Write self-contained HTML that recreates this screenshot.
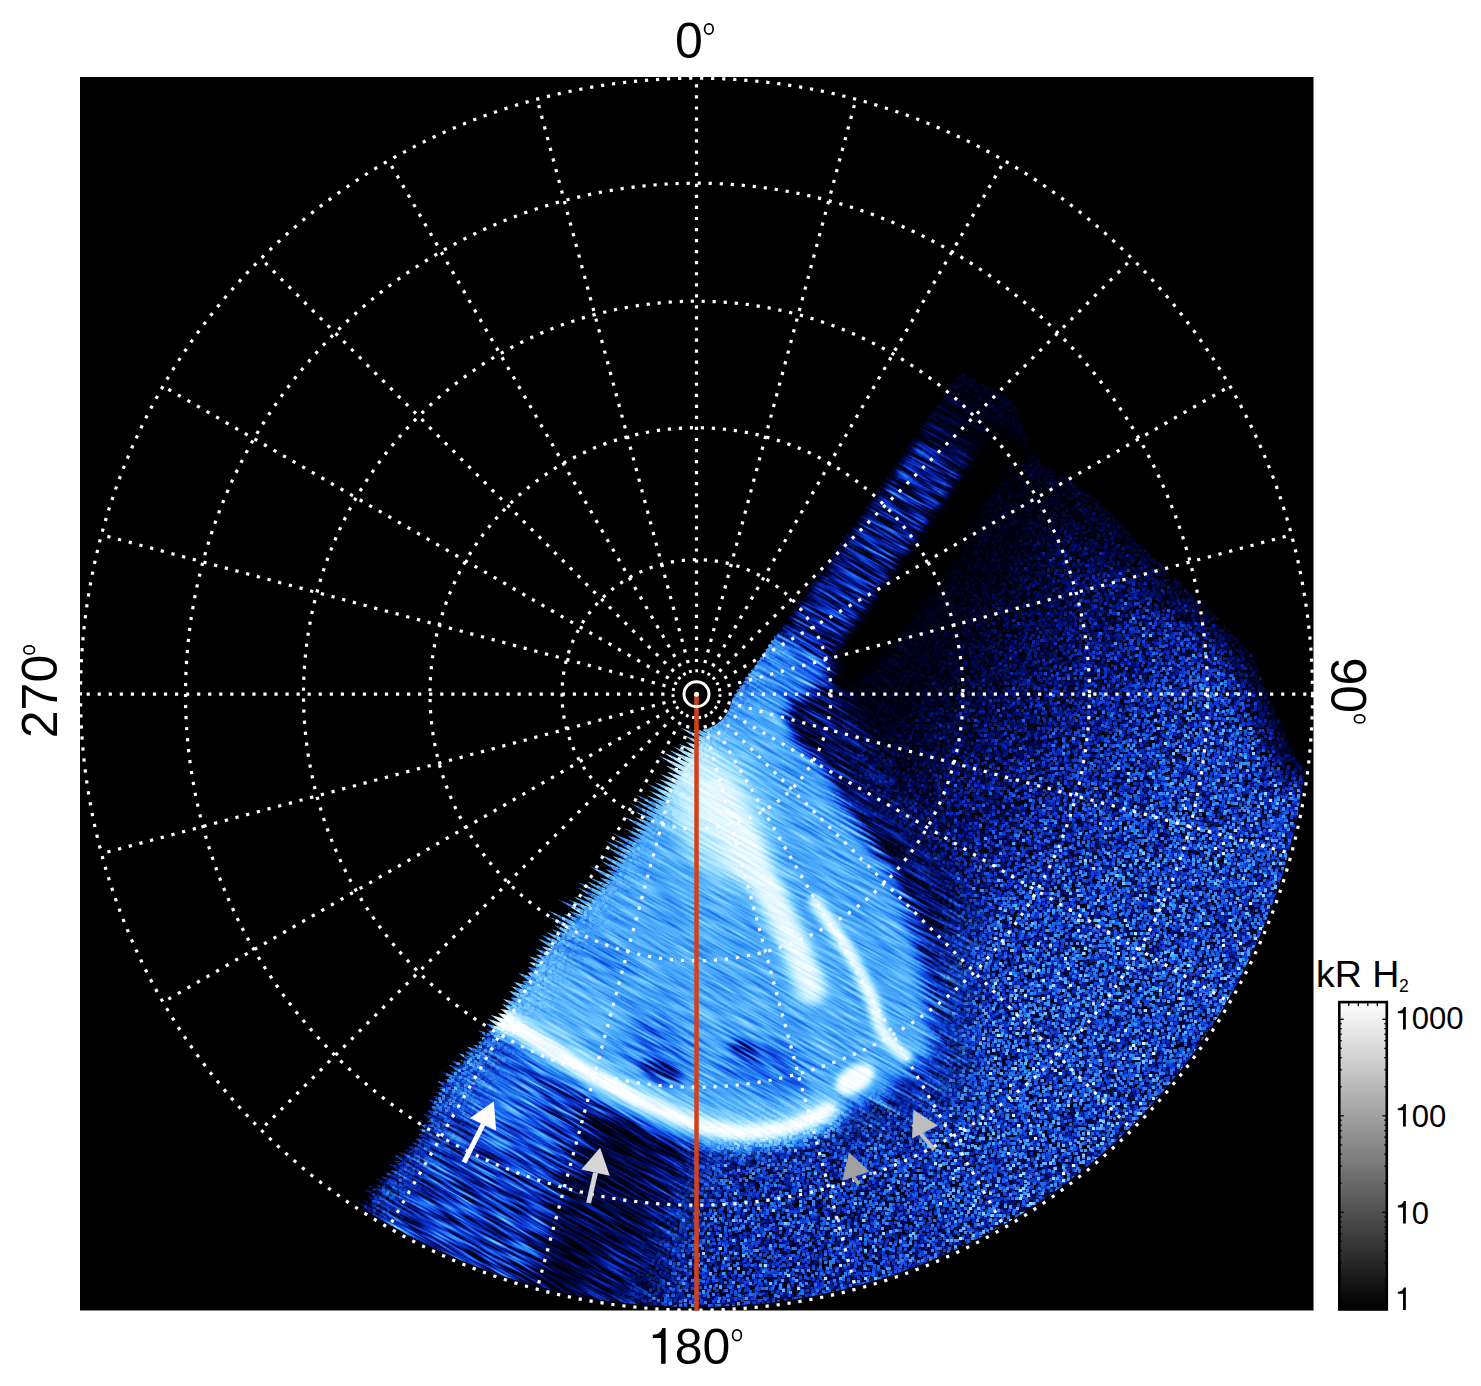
<!DOCTYPE html>
<html><head><meta charset="utf-8"><style>
html,body{margin:0;padding:0;background:#fff;width:1481px;height:1386px;overflow:hidden}
svg{position:absolute;left:0;top:0;display:block}
</style></head><body>
<svg width="1481" height="1386" viewBox="0 0 1481 1386">
<rect x="80" y="77" width="1233.5" height="1233.5" fill="#000"/>
<defs>
<clipPath id="dclip"><polygon points="288.4,1320.0 279.8,1313.2 291.3,1315.9 281.9,1308.7 294.2,1311.8 284.4,1304.4 297.1,1307.7 286.2,1299.7 300.0,1303.6 290.5,1296.4 302.8,1299.5 292.2,1291.6 305.7,1295.5 301.3,1291.0 308.6,1291.4 301.1,1285.2 311.5,1287.3 300.7,1279.3 314.4,1283.2 305.6,1276.3 317.3,1279.1 306.8,1271.3 320.2,1275.0 315.2,1270.2 323.1,1270.9 315.6,1264.8 326.0,1266.8 320.0,1261.5 328.9,1262.7 320.8,1256.3 331.7,1258.6 323.5,1252.1 334.6,1254.6 330.3,1250.2 337.5,1250.5 331.8,1245.3 340.4,1246.4 334.2,1240.9 343.3,1242.3 332.7,1234.4 346.2,1238.2 336.6,1230.9 349.1,1234.1 343.7,1229.1 352.0,1230.0 342.2,1222.6 354.9,1225.9 349.7,1221.0 357.8,1221.8 349.2,1215.1 360.6,1217.7 355.5,1212.9 363.5,1213.6 359.3,1209.3 366.4,1209.6 356.1,1201.8 369.3,1205.5 363.6,1200.3 372.2,1201.4 366.5,1196.2 375.1,1197.3 364.0,1189.1 378.5,1193.5 368.1,1185.8 381.9,1189.8 375.6,1184.3 385.3,1186.1 374.3,1178.0 388.7,1182.3 380.7,1175.9 392.1,1178.6 383.1,1171.7 395.5,1174.9 389.8,1169.8 398.7,1171.0 387.9,1163.1 401.8,1167.1 392.7,1160.1 404.9,1163.1 393.9,1155.1 408.0,1159.2 397.5,1151.4 411.1,1155.3 404.8,1149.8 414.2,1151.3 407.4,1145.6 417.3,1147.4 411.9,1142.4 420.4,1143.4 415.1,1138.5 423.0,1139.1 418.3,1134.5 425.1,1134.5 418.7,1129.0 427.2,1129.8 418.7,1123.2 429.3,1125.2 425.1,1120.9 431.4,1120.6 422.5,1113.6 433.6,1115.9 427.0,1110.3 435.7,1111.3 429.3,1105.8 437.8,1106.7 427.8,1099.2 439.9,1102.0 432.3,1095.8 442.0,1097.4 435.6,1091.8 444.1,1092.8 436.5,1086.6 446.3,1088.1 437.1,1081.1 448.4,1083.5 443.8,1078.9 451.5,1079.5 440.4,1071.4 454.8,1075.8 450.4,1071.3 458.2,1072.0 448.7,1064.8 461.5,1068.2 451.4,1060.6 464.9,1064.5 460.5,1060.1 468.2,1060.7 458.5,1053.3 471.6,1056.9 464.8,1051.2 474.9,1053.2 466.6,1046.6 478.2,1049.4 473.9,1045.0 481.6,1045.6 477.0,1041.1 484.9,1041.9 479.4,1036.8 488.3,1038.1 477.4,1030.0 491.6,1034.3 486.0,1029.2 495.0,1030.6 485.4,1023.3 498.3,1026.8 487.6,1018.8 501.7,1023.0 490.8,1015.0 504.6,1019.0 498.0,1013.3 507.3,1014.7 500.6,1009.0 510.0,1010.5 502.1,1004.2 512.8,1006.3 503.1,999.0 515.5,1002.1 510.5,997.4 518.2,997.9 508.7,990.7 520.9,993.7 511.1,986.3 523.7,989.5 513.4,981.8 526.4,985.3 521.9,980.8 529.1,981.1 518.2,973.1 531.8,976.9 527.0,972.2 534.5,972.7 527.9,967.0 537.3,968.5 528.8,961.7 540.0,964.2 529.3,956.3 542.7,960.0 536.1,954.4 546.1,956.3 535.4,948.4 549.6,952.6 541.5,946.2 553.0,948.9 537.7,938.4 556.4,945.2 541.0,934.7 559.9,941.5 546.6,932.2 563.3,937.8 551.6,929.3 566.7,934.1 553.9,925.0 570.2,930.4 549.0,916.7 573.6,926.7 547.7,910.3 577.0,923.0 564.0,913.8 580.5,919.3 569.2,911.0 583.9,915.5 558.2,899.3 587.3,911.8 568.6,899.5 590.8,908.1 574.0,896.8 594.2,904.4 580.0,894.6 597.6,900.7 578.0,887.8 601.1,897.0 577.8,882.1 604.5,893.3 587.0,881.6 607.9,889.6 590.9,878.2 611.1,885.7 599.7,877.4 613.9,881.5 589.3,865.9 616.7,877.4 605.7,869.3 619.5,873.3 601.4,861.2 622.3,869.1 598.9,854.1 625.1,865.0 612.6,856.0 627.9,860.8 606.1,846.7 630.7,856.7 605.6,840.7 633.5,852.5 613.3,839.3 636.4,848.4 613.7,833.8 639.2,844.2 627.0,835.5 642.0,840.1 624.7,828.5 644.8,835.9 631.9,826.8 647.6,831.8 624.0,816.7 650.4,827.6 635.3,817.3 653.2,823.5 635.7,811.8 656.0,819.3 630.1,802.9 658.8,815.2 635.2,800.1 661.6,811.0 636.1,794.8 664.4,806.9 646.9,795.2 667.0,802.5 648.9,790.5 669.5,798.2 647.7,784.1 672.0,793.8 654.1,781.9 674.6,789.5 659.5,779.2 677.1,785.1 660.3,773.9 679.6,780.8 666.8,771.7 682.1,776.4 665.8,765.4 684.7,772.1 658.9,755.8 687.2,767.8 661.9,751.7 689.7,763.4 669.5,750.2 692.2,759.1 674.0,747.0 694.8,754.7 679.0,744.0 697.3,750.4 685.4,741.8 700.0,746.1 685.2,736.0 702.9,742.0 680.3,727.5 705.7,737.9 681.9,722.7 708.6,733.9 692.5,722.9 711.5,729.8 688.9,715.2 714.4,725.7 692.0,711.2 717.3,721.6 696.1,707.8 720.2,717.5 719.2,715.0 723.1,713.4 722.0,710.8 726.0,709.3 725.4,707.0 728.9,705.2 727.8,702.7 731.7,701.1 731.3,698.9 734.6,697.0 733.9,694.6 737.5,692.9 736.3,690.3 740.3,688.8 739.3,686.2 743.2,684.7 742.7,682.4 746.0,680.6 744.7,677.8 748.9,676.4 748.0,673.9 751.8,672.3 750.9,669.9 754.6,668.2 754.6,666.2 757.5,664.1 756.7,661.7 760.3,660.0 759.9,657.8 763.2,655.9 762.2,653.4 766.1,651.8 765.4,649.4 768.9,647.7 767.7,645.0 771.8,643.5 770.8,641.0 774.6,639.4 773.5,636.8 777.5,635.3 777.0,633.0 780.4,631.2 779.4,628.7 783.2,627.1 782.1,624.5 786.1,623.0 784.9,620.3 788.9,618.9 788.4,616.6 791.8,614.8 790.6,612.1 794.7,610.7 793.4,608.0 797.5,606.5 796.5,604.0 800.4,602.4 799.0,599.7 803.2,598.3 801.9,595.6 806.1,594.2 805.3,591.8 808.9,590.1 808.2,587.7 811.8,586.0 811.5,583.8 814.7,581.9 813.5,579.2 817.5,577.8 816.2,575.0 820.4,573.6 819.7,571.3 823.2,569.5 822.2,567.0 826.1,565.4 825.1,562.8 829.0,561.3 827.9,558.7 831.8,557.2 831.5,555.0 834.7,553.1 833.6,550.5 837.5,549.0 836.7,546.5 840.4,544.9 839.4,542.3 843.3,540.7 842.6,538.4 846.1,536.6 845.2,534.1 849.0,532.5 847.9,529.9 851.8,528.4 850.9,525.9 854.7,524.3 853.7,521.7 857.6,520.2 857.5,518.2 860.4,516.1 860.2,513.9 863.3,512.0 862.6,509.6 866.1,507.9 865.2,505.3 869.0,503.7 868.7,501.6 871.9,499.6 870.9,497.1 874.7,495.5 873.8,493.0 877.6,491.4 877.5,489.4 880.4,487.3 879.7,484.9 883.3,483.2 882.9,481.0 886.2,479.1 886.0,477.0 889.0,475.0 888.8,472.8 891.9,470.8 891.4,468.6 894.7,466.7 894.4,464.6 897.6,462.6 897.3,460.5 900.5,458.5 900.4,456.5 903.3,454.4 902.6,452.0 906.2,450.3 905.6,448.0 909.0,446.2 908.1,443.7 911.9,442.1 911.0,439.6 914.8,437.9 914.4,435.7 917.6,433.8 916.3,431.1 920.5,429.7 920.4,427.7 923.3,425.6 922.7,423.3 926.2,421.5 925.8,419.3 929.0,417.4 928.4,415.1 931.9,413.3 931.7,411.2 934.8,409.2 933.6,406.5 937.6,405.1 937.1,402.7 940.5,400.9 940.4,398.9 943.3,396.8 942.4,394.3 946.2,392.7 946.0,390.6 949.1,388.6 948.3,386.2 951.9,384.5 951.4,382.2 954.8,380.4 953.9,377.9 957.6,376.3 956.3,373.5 960.5,372.2 1012.0,400.0 1036.0,458.0 1091.0,494.0 1145.0,548.0 1181.0,584.0 1220.0,620.0 1253.0,656.0 1267.0,692.0 1300.0,765.0 1400.0,800.0 1400.0,1400.0 300.0,1400.0"/></clipPath>
<clipPath id="cclip"><circle cx="696.5" cy="694.2" r="613"/></clipPath>
<filter id="b2" x="-50%" y="-50%" width="200%" height="200%"><feGaussianBlur stdDeviation="2"/></filter>
<filter id="b3" x="-50%" y="-50%" width="200%" height="200%"><feGaussianBlur stdDeviation="3"/></filter>
<filter id="b4" x="-50%" y="-50%" width="200%" height="200%"><feGaussianBlur stdDeviation="4"/></filter>
<filter id="b5" x="-50%" y="-50%" width="200%" height="200%"><feGaussianBlur stdDeviation="5"/></filter>
<filter id="b6" x="-50%" y="-50%" width="200%" height="200%"><feGaussianBlur stdDeviation="6"/></filter>
<filter id="b8" x="-50%" y="-50%" width="200%" height="200%"><feGaussianBlur stdDeviation="8"/></filter>
<filter id="b10" x="-50%" y="-50%" width="200%" height="200%"><feGaussianBlur stdDeviation="10"/></filter>
<filter id="b12" x="-50%" y="-50%" width="200%" height="200%"><feGaussianBlur stdDeviation="12"/></filter>
<filter id="b14" x="-50%" y="-50%" width="200%" height="200%"><feGaussianBlur stdDeviation="14"/></filter>
<filter id="b15" x="-50%" y="-50%" width="200%" height="200%"><feGaussianBlur stdDeviation="15"/></filter>
<filter id="b20" x="-50%" y="-50%" width="200%" height="200%"><feGaussianBlur stdDeviation="20"/></filter>
<filter id="b25" x="-50%" y="-50%" width="200%" height="200%"><feGaussianBlur stdDeviation="25"/></filter>
<filter id="b30" x="-50%" y="-50%" width="200%" height="200%"><feGaussianBlur stdDeviation="30"/></filter>
<filter id="b40" x="-50%" y="-50%" width="200%" height="200%"><feGaussianBlur stdDeviation="40"/></filter>
<filter id="cmapI" x="0" y="0" width="1481" height="1386" filterUnits="userSpaceOnUse" color-interpolation-filters="sRGB">
<feTurbulence type="fractalNoise" baseFrequency="0.6" numOctaves="1" seed="3" result="tn"/>
<feColorMatrix in="tn" type="matrix" values="1 0 0 0 0  1 0 0 0 0  1 0 0 0 0  0 0 0 0 1" result="n0"/>
<feMorphology in="n0" operator="dilate" radius="1" result="n1"/><feComponentTransfer in="n1" result="n"><feFuncR type="linear" slope="2.1" intercept="-0.878"/><feFuncG type="linear" slope="2.1" intercept="-0.878"/><feFuncB type="linear" slope="2.1" intercept="-0.878"/></feComponentTransfer>
<feComponentTransfer in="SourceGraphic" result="A"><feFuncR type="table" tableValues="0 0.3 0.55 0.8 0.9 0.85 0.65 0.5 0.4 0.3 0.2"/><feFuncG type="table" tableValues="0 0.3 0.55 0.8 0.9 0.85 0.65 0.5 0.4 0.3 0.2"/><feFuncB type="table" tableValues="0 0.3 0.55 0.8 0.9 0.85 0.65 0.5 0.4 0.3 0.2"/></feComponentTransfer>
<feComposite in="A" in2="n" operator="arithmetic" k1="1" k2="0" k3="0" k4="0" result="An"/>
<feComposite in="SourceGraphic" in2="An" operator="arithmetic" k1="0" k2="0.5" k3="1" k4="0" result="vp"/>
<feComponentTransfer in="SourceGraphic" result="B"><feFuncR type="table" tableValues="1.000 0.700 0.450 0.200 0.100 0.150 0.350 0.500 0.600 0.700 0.800"/><feFuncG type="table" tableValues="1.000 0.700 0.450 0.200 0.100 0.150 0.350 0.500 0.600 0.700 0.800"/><feFuncB type="table" tableValues="1.000 0.700 0.450 0.200 0.100 0.150 0.350 0.500 0.600 0.700 0.800"/></feComponentTransfer>
<feComposite in="vp" in2="B" operator="arithmetic" k1="0" k2="1" k3="0.5" k4="0" result="u"/>
<feComposite in="u" in2="u" operator="arithmetic" k1="0" k2="2" k3="0" k4="-1"/>
<feComponentTransfer>
<feFuncR type="table" tableValues="0 0 0 0.03 0.06 0.12 0.24 0.40 0.6 0.82 1"/>
<feFuncG type="table" tableValues="0 0.02 0.06 0.16 0.27 0.45 0.62 0.75 0.87 0.95 1"/>
<feFuncB type="table" tableValues="0 0.19 0.44 0.72 0.88 0.94 0.97 1 1 1 1"/>
<feFuncA type="table" tableValues="1 1"/>
</feComponentTransfer>
</filter>
<filter id="cmapS" x="-700" y="-700" width="2900" height="2900" filterUnits="userSpaceOnUse" color-interpolation-filters="sRGB">
<feTurbulence type="fractalNoise" baseFrequency="0.025 0.4" numOctaves="2" seed="7" result="tn"/>
<feColorMatrix in="tn" type="matrix" values="1 0 0 0 0  1 0 0 0 0  1 0 0 0 0  0 0 0 0 1" result="n0"/>
<feMerge result="n"><feMergeNode in="n0"/></feMerge>
<feComponentTransfer in="SourceGraphic" result="A"><feFuncR type="table" tableValues="0 0.4 0.65 0.72 0.65 0.45 0.3 0.22 0.17 0.14 0.12"/><feFuncG type="table" tableValues="0 0.4 0.65 0.72 0.65 0.45 0.3 0.22 0.17 0.14 0.12"/><feFuncB type="table" tableValues="0 0.4 0.65 0.72 0.65 0.45 0.3 0.22 0.17 0.14 0.12"/></feComponentTransfer>
<feComposite in="A" in2="n" operator="arithmetic" k1="1" k2="0" k3="0" k4="0" result="An"/>
<feComposite in="SourceGraphic" in2="An" operator="arithmetic" k1="0" k2="0.5" k3="1" k4="0" result="vp"/>
<feComponentTransfer in="SourceGraphic" result="B"><feFuncR type="table" tableValues="1.000 0.600 0.350 0.280 0.350 0.550 0.700 0.780 0.830 0.860 0.880"/><feFuncG type="table" tableValues="1.000 0.600 0.350 0.280 0.350 0.550 0.700 0.780 0.830 0.860 0.880"/><feFuncB type="table" tableValues="1.000 0.600 0.350 0.280 0.350 0.550 0.700 0.780 0.830 0.860 0.880"/></feComponentTransfer>
<feComposite in="vp" in2="B" operator="arithmetic" k1="0" k2="1" k3="0.5" k4="0" result="u"/>
<feComposite in="u" in2="u" operator="arithmetic" k1="0" k2="2" k3="0" k4="-1"/>
<feComponentTransfer>
<feFuncR type="table" tableValues="0 0 0 0.03 0.06 0.12 0.24 0.40 0.6 0.82 1"/>
<feFuncG type="table" tableValues="0 0.02 0.06 0.16 0.27 0.45 0.62 0.75 0.87 0.95 1"/>
<feFuncB type="table" tableValues="0 0.19 0.44 0.72 0.88 0.94 0.97 1 1 1 1"/>
<feFuncA type="table" tableValues="1 1"/>
</feComponentTransfer>
</filter>
<mask id="smask" maskUnits="userSpaceOnUse" x="0" y="0" width="1481" height="1386"><polygon points="932.5,380.0 1015.0,395.0 900.0,640.0 850.0,760.0 960.0,900.0 960.0,1100.0 700.0,1160.0 640.0,1320.0 300.0,1320.0" fill="#fff" filter="url(#b25)"/></mask>
<linearGradient id="ng" gradientUnits="userSpaceOnUse" x1="940" y1="641" x2="1168" y2="802"><stop offset="0" stop-color="rgb(13,13,13)"/><stop offset="0.5" stop-color="rgb(51,51,51)"/><stop offset="1" stop-color="rgb(84,84,84)"/></linearGradient>
</defs>
<g clip-path="url(#cclip)">
<g clip-path="url(#dclip)"><g filter="url(#cmapI)"><rect x="0" y="0" width="1481" height="1386" fill="url(#ng)"/>
<polygon points="700.0,1100.0 900.0,1150.0 1000.0,1300.0 650.0,1330.0" fill="rgb(76,76,76)" filter="url(#b20)"/>
<polygon points="980.0,920.0 1300.0,820.0 1300.0,1000.0 1150.0,1250.0 1000.0,1300.0 920.0,1120.0" fill="rgb(89,89,89)" filter="url(#b40)"/>
<path d="M1012,400 L1036,458 L1091,494 L1145,548 L1181,584 L1220,620 L1253,656 L1267,692 L1300,765" stroke="rgb(8,8,8)" stroke-width="40" fill="none" stroke-linecap="round" filter="url(#b12)"/>
<polygon points="959.0,384.6 936.1,417.1 913.1,449.6 890.2,482.1 867.2,514.6 844.2,547.1 821.3,579.6 798.3,612.1 775.4,644.6 821.1,676.9 844.1,644.4 867.0,611.9 890.0,579.4 912.9,546.9 935.9,514.4 958.9,481.9 981.8,449.4 1004.8,416.9" fill="rgb(59,59,59)" filter="url(#b3)"/>
<polygon points="965.5,344.2 958.5,354.2 951.4,364.2 944.3,374.2 937.3,384.2 930.2,394.2 923.1,404.2 916.1,414.2 909.0,424.2 998.9,487.7 1005.9,477.7 1013.0,467.7 1020.1,457.7 1027.1,447.7 1034.2,437.7 1041.2,427.7 1048.3,417.7 1055.4,407.7" fill="rgb(15,15,15)" filter="url(#b12)"/>
<polygon points="1036.0,450.0 990.0,490.0 960.0,560.0 900.0,640.0 850.0,690.0 800.0,712.0 762.9,755.8 812.4,685.8 861.8,615.8 911.3,545.8 960.8,475.8 996.1,425.8" fill="rgb(5,5,5)" filter="url(#b6)"/>
<polygon points="751.4,612.7 739.9,628.9 728.4,645.2 716.9,661.4 705.5,677.7 694.0,693.9 682.5,710.2 671.0,726.4 659.5,742.7 741.2,800.4 752.7,784.1 764.2,767.9 775.7,751.6 787.1,735.4 798.6,719.1 810.1,702.9 821.6,686.6 833.1,670.4" fill="rgb(140,140,140)" filter="url(#b8)"/>
<polygon points="686.4,700.0 770.0,695.0 795.0,712.0 845.0,795.0 900.0,880.0 922.0,960.0 935.0,1050.0 880.0,1100.0 800.0,1120.0 700.0,1130.0 600.0,1095.0 520.0,1035.0 467.4,1010.0" fill="rgb(163,163,163)" filter="url(#b8)"/>
<ellipse cx="822" cy="728" rx="38" ry="24" fill="rgb(20,20,20)" transform="rotate(30 822 728)" filter="url(#b6)"/>
<polygon points="795.0,708.0 840.0,790.0 895.0,872.0 925.0,925.0 960.0,905.0 925.0,830.0 875.0,745.0 835.0,690.0" fill="rgb(43,43,43)" filter="url(#b10)"/>
<ellipse cx="640" cy="1040" rx="60" ry="28" fill="rgb(128,128,128)" transform="rotate(25 640 1040)" filter="url(#b12)"/>
<ellipse cx="660" cy="1072" rx="22" ry="10" fill="rgb(64,64,64)" transform="rotate(20 660 1072)" filter="url(#b5)"/>
<ellipse cx="770" cy="1070" rx="45" ry="22" fill="rgb(122,122,122)" transform="rotate(10 770 1070)" filter="url(#b10)"/>
<ellipse cx="745" cy="1050" rx="15" ry="8" fill="rgb(71,71,71)" transform="rotate(20 745 1050)" filter="url(#b4)"/>
<ellipse cx="600" cy="960" rx="40" ry="20" fill="rgb(140,140,140)" transform="rotate(30 600 960)" filter="url(#b10)"/>
<polygon points="467.4,1010.0 560.0,1075.0 600.0,1110.0 560.0,1200.0 520.0,1290.0 340.0,1260.0" fill="rgb(87,87,87)" filter="url(#b15)"/>
<ellipse cx="480" cy="1080" rx="85" ry="40" fill="rgb(128,128,128)" transform="rotate(38 480 1080)" filter="url(#b20)"/>
<ellipse cx="715" cy="810" rx="42" ry="80" fill="rgb(230,230,230)" transform="rotate(-25 715 810)" filter="url(#b14)"/>
<ellipse cx="575" cy="1005" rx="65" ry="32" fill="rgb(173,173,173)" transform="rotate(32 575 1005)" filter="url(#b14)"/>
<path d="M712,792 C745,845 785,915 812,990" stroke="rgb(242,242,242)" stroke-width="30" fill="none" stroke-linecap="round" filter="url(#b6)"/>
<path d="M815,902 C848,945 872,990 877,1018 C882,1035 895,1048 906,1056" stroke="rgb(245,245,245)" stroke-width="13" fill="none" stroke-linecap="round" filter="url(#b3)"/>
<path d="M503,1019 C553,1048 633,1110 720,1130 C770,1136 800,1126 828,1110" stroke="rgb(204,204,204)" stroke-width="36" fill="none" stroke-linecap="round" filter="url(#b8)"/>
<path d="M503,1019 C553,1048 633,1110 720,1130 C770,1136 800,1126 828,1110" stroke="rgb(255,255,255)" stroke-width="14" fill="none" stroke-linecap="round" filter="url(#b3)"/>
<ellipse cx="855" cy="1079" rx="21" ry="13" fill="rgb(255,255,255)" transform="rotate(-30 855 1079)" filter="url(#b3)"/>
<ellipse cx="505" cy="1022" rx="12" ry="8" fill="rgb(255,255,255)" transform="rotate(30 505 1022)" filter="url(#b4)"/></g></g>
<g clip-path="url(#dclip)"><g mask="url(#smask)"><g transform="rotate(29 696.5 694.2)"><g filter="url(#cmapS)"><g transform="rotate(-29 696.5 694.2)"><rect x="0" y="0" width="1481" height="1386" fill="url(#ng)"/>
<polygon points="700.0,1100.0 900.0,1150.0 1000.0,1300.0 650.0,1330.0" fill="rgb(76,76,76)" filter="url(#b20)"/>
<polygon points="980.0,920.0 1300.0,820.0 1300.0,1000.0 1150.0,1250.0 1000.0,1300.0 920.0,1120.0" fill="rgb(89,89,89)" filter="url(#b40)"/>
<path d="M1012,400 L1036,458 L1091,494 L1145,548 L1181,584 L1220,620 L1253,656 L1267,692 L1300,765" stroke="rgb(8,8,8)" stroke-width="40" fill="none" stroke-linecap="round" filter="url(#b12)"/>
<polygon points="959.0,384.6 936.1,417.1 913.1,449.6 890.2,482.1 867.2,514.6 844.2,547.1 821.3,579.6 798.3,612.1 775.4,644.6 821.1,676.9 844.1,644.4 867.0,611.9 890.0,579.4 912.9,546.9 935.9,514.4 958.9,481.9 981.8,449.4 1004.8,416.9" fill="rgb(59,59,59)" filter="url(#b3)"/>
<polygon points="965.5,344.2 958.5,354.2 951.4,364.2 944.3,374.2 937.3,384.2 930.2,394.2 923.1,404.2 916.1,414.2 909.0,424.2 998.9,487.7 1005.9,477.7 1013.0,467.7 1020.1,457.7 1027.1,447.7 1034.2,437.7 1041.2,427.7 1048.3,417.7 1055.4,407.7" fill="rgb(15,15,15)" filter="url(#b12)"/>
<polygon points="1036.0,450.0 990.0,490.0 960.0,560.0 900.0,640.0 850.0,690.0 800.0,712.0 762.9,755.8 812.4,685.8 861.8,615.8 911.3,545.8 960.8,475.8 996.1,425.8" fill="rgb(5,5,5)" filter="url(#b6)"/>
<polygon points="751.4,612.7 739.9,628.9 728.4,645.2 716.9,661.4 705.5,677.7 694.0,693.9 682.5,710.2 671.0,726.4 659.5,742.7 741.2,800.4 752.7,784.1 764.2,767.9 775.7,751.6 787.1,735.4 798.6,719.1 810.1,702.9 821.6,686.6 833.1,670.4" fill="rgb(140,140,140)" filter="url(#b8)"/>
<polygon points="686.4,700.0 770.0,695.0 795.0,712.0 845.0,795.0 900.0,880.0 922.0,960.0 935.0,1050.0 880.0,1100.0 800.0,1120.0 700.0,1130.0 600.0,1095.0 520.0,1035.0 467.4,1010.0" fill="rgb(163,163,163)" filter="url(#b8)"/>
<ellipse cx="822" cy="728" rx="38" ry="24" fill="rgb(20,20,20)" transform="rotate(30 822 728)" filter="url(#b6)"/>
<polygon points="795.0,708.0 840.0,790.0 895.0,872.0 925.0,925.0 960.0,905.0 925.0,830.0 875.0,745.0 835.0,690.0" fill="rgb(43,43,43)" filter="url(#b10)"/>
<ellipse cx="640" cy="1040" rx="60" ry="28" fill="rgb(128,128,128)" transform="rotate(25 640 1040)" filter="url(#b12)"/>
<ellipse cx="660" cy="1072" rx="22" ry="10" fill="rgb(64,64,64)" transform="rotate(20 660 1072)" filter="url(#b5)"/>
<ellipse cx="770" cy="1070" rx="45" ry="22" fill="rgb(122,122,122)" transform="rotate(10 770 1070)" filter="url(#b10)"/>
<ellipse cx="745" cy="1050" rx="15" ry="8" fill="rgb(71,71,71)" transform="rotate(20 745 1050)" filter="url(#b4)"/>
<ellipse cx="600" cy="960" rx="40" ry="20" fill="rgb(140,140,140)" transform="rotate(30 600 960)" filter="url(#b10)"/>
<polygon points="467.4,1010.0 560.0,1075.0 600.0,1110.0 560.0,1200.0 520.0,1290.0 340.0,1260.0" fill="rgb(87,87,87)" filter="url(#b15)"/>
<ellipse cx="480" cy="1080" rx="85" ry="40" fill="rgb(128,128,128)" transform="rotate(38 480 1080)" filter="url(#b20)"/>
<ellipse cx="715" cy="810" rx="42" ry="80" fill="rgb(230,230,230)" transform="rotate(-25 715 810)" filter="url(#b14)"/>
<ellipse cx="575" cy="1005" rx="65" ry="32" fill="rgb(173,173,173)" transform="rotate(32 575 1005)" filter="url(#b14)"/>
<path d="M712,792 C745,845 785,915 812,990" stroke="rgb(242,242,242)" stroke-width="30" fill="none" stroke-linecap="round" filter="url(#b6)"/>
<path d="M815,902 C848,945 872,990 877,1018 C882,1035 895,1048 906,1056" stroke="rgb(245,245,245)" stroke-width="13" fill="none" stroke-linecap="round" filter="url(#b3)"/>
<path d="M503,1019 C553,1048 633,1110 720,1130 C770,1136 800,1126 828,1110" stroke="rgb(204,204,204)" stroke-width="36" fill="none" stroke-linecap="round" filter="url(#b8)"/>
<path d="M503,1019 C553,1048 633,1110 720,1130 C770,1136 800,1126 828,1110" stroke="rgb(255,255,255)" stroke-width="14" fill="none" stroke-linecap="round" filter="url(#b3)"/>
<ellipse cx="855" cy="1079" rx="21" ry="13" fill="rgb(255,255,255)" transform="rotate(-30 855 1079)" filter="url(#b3)"/>
<ellipse cx="505" cy="1022" rx="12" ry="8" fill="rgb(255,255,255)" transform="rotate(30 505 1022)" filter="url(#b4)"/></g></g></g></g></g>
</g>
<circle cx="696.5" cy="694.2" r="36" fill="#000"/>
<circle cx="696.5" cy="694.2" r="616" stroke="#fff" stroke-width="3.2" stroke-dasharray="3.2 7.85" fill="none"/>
<circle cx="696.5" cy="694.2" r="511" stroke="#fff" stroke-width="3.2" stroke-dasharray="3.2 7.85" fill="none"/>
<circle cx="696.5" cy="694.2" r="393" stroke="#fff" stroke-width="3.2" stroke-dasharray="3.2 7.85" fill="none"/>
<circle cx="696.5" cy="694.2" r="266.5" stroke="#fff" stroke-width="3.2" stroke-dasharray="3.2 7.85" fill="none"/>
<circle cx="696.5" cy="694.2" r="134.5" stroke="#fff" stroke-width="3.2" stroke-dasharray="3.2 7.85" fill="none"/>
<circle cx="696.5" cy="694.2" r="23.5" stroke="#fff" stroke-width="3" stroke-dasharray="2.8 3.6" fill="none"/>
<line x1="696.50" y1="662.10" x2="696.50" y2="78.20" stroke="#fff" stroke-width="3.2" stroke-dasharray="3.2 7.85" fill="none"/>
<line x1="704.81" y1="663.19" x2="855.93" y2="99.19" stroke="#fff" stroke-width="3.2" stroke-dasharray="3.2 7.85" fill="none"/>
<line x1="712.55" y1="666.40" x2="1004.50" y2="160.73" stroke="#fff" stroke-width="3.2" stroke-dasharray="3.2 7.85" fill="none"/>
<line x1="719.20" y1="671.50" x2="1132.08" y2="258.62" stroke="#fff" stroke-width="3.2" stroke-dasharray="3.2 7.85" fill="none"/>
<line x1="724.30" y1="678.15" x2="1229.97" y2="386.20" stroke="#fff" stroke-width="3.2" stroke-dasharray="3.2 7.85" fill="none"/>
<line x1="727.51" y1="685.89" x2="1291.51" y2="534.77" stroke="#fff" stroke-width="3.2" stroke-dasharray="3.2 7.85" fill="none"/>
<line x1="728.60" y1="694.20" x2="1312.50" y2="694.20" stroke="#fff" stroke-width="3.2" stroke-dasharray="3.2 7.85" fill="none"/>
<line x1="727.51" y1="702.51" x2="1291.51" y2="853.63" stroke="#fff" stroke-width="3.2" stroke-dasharray="3.2 7.85" fill="none"/>
<line x1="724.30" y1="710.25" x2="1229.97" y2="1002.20" stroke="#fff" stroke-width="3.2" stroke-dasharray="3.2 7.85" fill="none"/>
<line x1="719.20" y1="716.90" x2="1132.08" y2="1129.78" stroke="#fff" stroke-width="3.2" stroke-dasharray="3.2 7.85" fill="none"/>
<line x1="712.55" y1="722.00" x2="1004.50" y2="1227.67" stroke="#fff" stroke-width="3.2" stroke-dasharray="3.2 7.85" fill="none"/>
<line x1="704.81" y1="725.21" x2="855.93" y2="1289.21" stroke="#fff" stroke-width="3.2" stroke-dasharray="3.2 7.85" fill="none"/>
<line x1="696.50" y1="726.30" x2="696.50" y2="1310.20" stroke="#fff" stroke-width="3.2" stroke-dasharray="3.2 7.85" fill="none"/>
<line x1="688.19" y1="725.21" x2="537.07" y2="1289.21" stroke="#fff" stroke-width="3.2" stroke-dasharray="3.2 7.85" fill="none"/>
<line x1="680.45" y1="722.00" x2="388.50" y2="1227.67" stroke="#fff" stroke-width="3.2" stroke-dasharray="3.2 7.85" fill="none"/>
<line x1="673.80" y1="716.90" x2="260.92" y2="1129.78" stroke="#fff" stroke-width="3.2" stroke-dasharray="3.2 7.85" fill="none"/>
<line x1="668.70" y1="710.25" x2="163.03" y2="1002.20" stroke="#fff" stroke-width="3.2" stroke-dasharray="3.2 7.85" fill="none"/>
<line x1="665.49" y1="702.51" x2="101.49" y2="853.63" stroke="#fff" stroke-width="3.2" stroke-dasharray="3.2 7.85" fill="none"/>
<line x1="664.40" y1="694.20" x2="80.50" y2="694.20" stroke="#fff" stroke-width="3.2" stroke-dasharray="3.2 7.85" fill="none"/>
<line x1="665.49" y1="685.89" x2="101.49" y2="534.77" stroke="#fff" stroke-width="3.2" stroke-dasharray="3.2 7.85" fill="none"/>
<line x1="668.70" y1="678.15" x2="163.03" y2="386.20" stroke="#fff" stroke-width="3.2" stroke-dasharray="3.2 7.85" fill="none"/>
<line x1="673.80" y1="671.50" x2="260.92" y2="258.62" stroke="#fff" stroke-width="3.2" stroke-dasharray="3.2 7.85" fill="none"/>
<line x1="680.45" y1="666.40" x2="388.50" y2="160.73" stroke="#fff" stroke-width="3.2" stroke-dasharray="3.2 7.85" fill="none"/>
<line x1="688.19" y1="663.19" x2="537.07" y2="99.19" stroke="#fff" stroke-width="3.2" stroke-dasharray="3.2 7.85" fill="none"/>
<line x1="696.5" y1="694.2" x2="696.5" y2="1310.5" stroke="#d5401a" stroke-width="4.5"/>
<circle cx="696.5" cy="694.2" r="12.5" fill="none" stroke="#fff" stroke-width="3"/>
<circle cx="696.5" cy="694.2" r="2.5" fill="#fff"/>
<line x1="464" y1="1162.3" x2="483.1" y2="1124.3" stroke="#fff" stroke-width="5"/>
<polygon points="493.8,1101.5 470,1118 496.2,1130.7" fill="#fff"/>
<line x1="588.6" y1="1203" x2="595.5" y2="1172.7" stroke="#d6d6d6" stroke-width="5"/>
<polygon points="600.1,1147.7 581.3,1169.6 609.8,1175.7" fill="#d6d6d6"/>
<line x1="859" y1="1184.3" x2="845.6" y2="1166.5" stroke="#a0a0a0" stroke-width="4"/>
<polygon points="869.5,1171.6 848.9,1152.2 842.3,1180.8" fill="#a0a0a0"/>
<line x1="934" y1="1149.6" x2="912.7" y2="1124.2" stroke="#bdbdbd" stroke-width="4"/>
<polygon points="938,1125.5 913.4,1109.7 912,1138.6" fill="#bdbdbd"/>
<defs><linearGradient id="cb" x1="0" y1="0" x2="0" y2="1"><stop offset="0" stop-color="#fff"/><stop offset="1" stop-color="#000"/></linearGradient></defs>
<rect x="1339.3" y="1002.1" width="47.5" height="307.4" fill="url(#cb)" stroke="#000" stroke-width="2.6"/>
<line x1="1339.3" y1="1308.80" x2="1343.8" y2="1308.80" stroke="#000" stroke-width="1.3"/>
<line x1="1386.8" y1="1308.80" x2="1382.3" y2="1308.80" stroke="#000" stroke-width="1.3"/>
<line x1="1339.3" y1="1279.75" x2="1341.8" y2="1279.75" stroke="#000" stroke-width="1.3"/>
<line x1="1386.8" y1="1279.75" x2="1384.3" y2="1279.75" stroke="#000" stroke-width="1.3"/>
<line x1="1339.3" y1="1262.76" x2="1341.8" y2="1262.76" stroke="#000" stroke-width="1.3"/>
<line x1="1386.8" y1="1262.76" x2="1384.3" y2="1262.76" stroke="#000" stroke-width="1.3"/>
<line x1="1339.3" y1="1250.70" x2="1341.8" y2="1250.70" stroke="#000" stroke-width="1.3"/>
<line x1="1386.8" y1="1250.70" x2="1384.3" y2="1250.70" stroke="#000" stroke-width="1.3"/>
<line x1="1339.3" y1="1241.35" x2="1341.8" y2="1241.35" stroke="#000" stroke-width="1.3"/>
<line x1="1386.8" y1="1241.35" x2="1384.3" y2="1241.35" stroke="#000" stroke-width="1.3"/>
<line x1="1339.3" y1="1233.71" x2="1341.8" y2="1233.71" stroke="#000" stroke-width="1.3"/>
<line x1="1386.8" y1="1233.71" x2="1384.3" y2="1233.71" stroke="#000" stroke-width="1.3"/>
<line x1="1339.3" y1="1227.25" x2="1341.8" y2="1227.25" stroke="#000" stroke-width="1.3"/>
<line x1="1386.8" y1="1227.25" x2="1384.3" y2="1227.25" stroke="#000" stroke-width="1.3"/>
<line x1="1339.3" y1="1221.65" x2="1341.8" y2="1221.65" stroke="#000" stroke-width="1.3"/>
<line x1="1386.8" y1="1221.65" x2="1384.3" y2="1221.65" stroke="#000" stroke-width="1.3"/>
<line x1="1339.3" y1="1216.72" x2="1341.8" y2="1216.72" stroke="#000" stroke-width="1.3"/>
<line x1="1386.8" y1="1216.72" x2="1384.3" y2="1216.72" stroke="#000" stroke-width="1.3"/>
<line x1="1339.3" y1="1212.30" x2="1343.8" y2="1212.30" stroke="#000" stroke-width="1.3"/>
<line x1="1386.8" y1="1212.30" x2="1382.3" y2="1212.30" stroke="#000" stroke-width="1.3"/>
<line x1="1339.3" y1="1183.25" x2="1341.8" y2="1183.25" stroke="#000" stroke-width="1.3"/>
<line x1="1386.8" y1="1183.25" x2="1384.3" y2="1183.25" stroke="#000" stroke-width="1.3"/>
<line x1="1339.3" y1="1166.26" x2="1341.8" y2="1166.26" stroke="#000" stroke-width="1.3"/>
<line x1="1386.8" y1="1166.26" x2="1384.3" y2="1166.26" stroke="#000" stroke-width="1.3"/>
<line x1="1339.3" y1="1154.20" x2="1341.8" y2="1154.20" stroke="#000" stroke-width="1.3"/>
<line x1="1386.8" y1="1154.20" x2="1384.3" y2="1154.20" stroke="#000" stroke-width="1.3"/>
<line x1="1339.3" y1="1144.85" x2="1341.8" y2="1144.85" stroke="#000" stroke-width="1.3"/>
<line x1="1386.8" y1="1144.85" x2="1384.3" y2="1144.85" stroke="#000" stroke-width="1.3"/>
<line x1="1339.3" y1="1137.21" x2="1341.8" y2="1137.21" stroke="#000" stroke-width="1.3"/>
<line x1="1386.8" y1="1137.21" x2="1384.3" y2="1137.21" stroke="#000" stroke-width="1.3"/>
<line x1="1339.3" y1="1130.75" x2="1341.8" y2="1130.75" stroke="#000" stroke-width="1.3"/>
<line x1="1386.8" y1="1130.75" x2="1384.3" y2="1130.75" stroke="#000" stroke-width="1.3"/>
<line x1="1339.3" y1="1125.15" x2="1341.8" y2="1125.15" stroke="#000" stroke-width="1.3"/>
<line x1="1386.8" y1="1125.15" x2="1384.3" y2="1125.15" stroke="#000" stroke-width="1.3"/>
<line x1="1339.3" y1="1120.22" x2="1341.8" y2="1120.22" stroke="#000" stroke-width="1.3"/>
<line x1="1386.8" y1="1120.22" x2="1384.3" y2="1120.22" stroke="#000" stroke-width="1.3"/>
<line x1="1339.3" y1="1115.80" x2="1343.8" y2="1115.80" stroke="#000" stroke-width="1.3"/>
<line x1="1386.8" y1="1115.80" x2="1382.3" y2="1115.80" stroke="#000" stroke-width="1.3"/>
<line x1="1339.3" y1="1086.75" x2="1341.8" y2="1086.75" stroke="#000" stroke-width="1.3"/>
<line x1="1386.8" y1="1086.75" x2="1384.3" y2="1086.75" stroke="#000" stroke-width="1.3"/>
<line x1="1339.3" y1="1069.76" x2="1341.8" y2="1069.76" stroke="#000" stroke-width="1.3"/>
<line x1="1386.8" y1="1069.76" x2="1384.3" y2="1069.76" stroke="#000" stroke-width="1.3"/>
<line x1="1339.3" y1="1057.70" x2="1341.8" y2="1057.70" stroke="#000" stroke-width="1.3"/>
<line x1="1386.8" y1="1057.70" x2="1384.3" y2="1057.70" stroke="#000" stroke-width="1.3"/>
<line x1="1339.3" y1="1048.35" x2="1341.8" y2="1048.35" stroke="#000" stroke-width="1.3"/>
<line x1="1386.8" y1="1048.35" x2="1384.3" y2="1048.35" stroke="#000" stroke-width="1.3"/>
<line x1="1339.3" y1="1040.71" x2="1341.8" y2="1040.71" stroke="#000" stroke-width="1.3"/>
<line x1="1386.8" y1="1040.71" x2="1384.3" y2="1040.71" stroke="#000" stroke-width="1.3"/>
<line x1="1339.3" y1="1034.25" x2="1341.8" y2="1034.25" stroke="#000" stroke-width="1.3"/>
<line x1="1386.8" y1="1034.25" x2="1384.3" y2="1034.25" stroke="#000" stroke-width="1.3"/>
<line x1="1339.3" y1="1028.65" x2="1341.8" y2="1028.65" stroke="#000" stroke-width="1.3"/>
<line x1="1386.8" y1="1028.65" x2="1384.3" y2="1028.65" stroke="#000" stroke-width="1.3"/>
<line x1="1339.3" y1="1023.72" x2="1341.8" y2="1023.72" stroke="#000" stroke-width="1.3"/>
<line x1="1386.8" y1="1023.72" x2="1384.3" y2="1023.72" stroke="#000" stroke-width="1.3"/>
<line x1="1339.3" y1="1019.30" x2="1343.8" y2="1019.30" stroke="#000" stroke-width="1.3"/>
<line x1="1386.8" y1="1019.30" x2="1382.3" y2="1019.30" stroke="#000" stroke-width="1.3"/>
<line x1="1348.80" y1="1002.1" x2="1348.80" y2="1006.1" stroke="#000" stroke-width="1.3"/>
<line x1="1358.30" y1="1002.1" x2="1358.30" y2="1006.1" stroke="#000" stroke-width="1.3"/>
<line x1="1367.80" y1="1002.1" x2="1367.80" y2="1006.1" stroke="#000" stroke-width="1.3"/>
<line x1="1377.30" y1="1002.1" x2="1377.30" y2="1006.1" stroke="#000" stroke-width="1.3"/>
<text x="675" y="57.5" font-size="50" font-family="Liberation Sans" fill="#000">0</text>
<ellipse cx="708.9" cy="29" rx="4.3" ry="5.2" fill="none" stroke="#000" stroke-width="1.7"/>
<path d="M661.10,1363.70 L665.60,1363.70 L665.60,1328.00 L662.30,1328.00 C661.50,1331.20 659.00,1334.70 652.80,1334.80 L652.80,1338.10 L661.10,1338.10 Z" fill="#000"/>
<text x="674.8" y="1364" font-size="50" font-family="Liberation Sans" fill="#000">80</text>
<ellipse cx="737" cy="1335.2" rx="4.4" ry="5.4" fill="none" stroke="#000" stroke-width="1.7"/>
<text transform="translate(56.9,738.2) rotate(-90)" font-size="50" font-family="Liberation Sans" fill="#000">270</text>
<ellipse cx="29.2" cy="649.9" rx="5.35" ry="4.05" fill="none" stroke="#000" stroke-width="1.7"/>
<text transform="translate(1331,657.5) rotate(90)" font-size="50" font-family="Liberation Sans" fill="#000">90</text>
<ellipse cx="1359.6" cy="718.9" rx="5.25" ry="4.05" fill="none" stroke="#000" stroke-width="1.7"/>
<text x="1316" y="987" font-size="37.5" font-family="Liberation Sans" fill="#000">kR H</text>
<text x="1399" y="992" font-size="17.5" font-family="Liberation Sans" fill="#000">2</text>
<path d="M1403.03,1029.40 L1405.86,1029.40 L1405.86,1006.91 L1403.78,1006.91 C1403.28,1008.93 1401.71,1011.13 1397.80,1011.19 L1397.80,1013.27 L1403.03,1013.27 Z" fill="#000"/>
<text x="1411.8" y="1029.4" font-size="31" font-family="Liberation Sans" fill="#000">000</text>
<path d="M1403.03,1126.50 L1405.86,1126.50 L1405.86,1104.01 L1403.78,1104.01 C1403.28,1106.03 1401.71,1108.23 1397.80,1108.29 L1397.80,1110.37 L1403.03,1110.37 Z" fill="#000"/>
<text x="1411.8" y="1126.5" font-size="31" font-family="Liberation Sans" fill="#000">00</text>
<path d="M1403.03,1223.60 L1405.86,1223.60 L1405.86,1201.11 L1403.78,1201.11 C1403.28,1203.12 1401.71,1205.33 1397.80,1205.39 L1397.80,1207.47 L1403.03,1207.47 Z" fill="#000"/>
<text x="1411.8" y="1223.6" font-size="31" font-family="Liberation Sans" fill="#000">0</text>
<path d="M1403.03,1309.90 L1405.86,1309.90 L1405.86,1287.41 L1403.78,1287.41 C1403.28,1289.43 1401.71,1291.63 1397.80,1291.69 L1397.80,1293.77 L1403.03,1293.77 Z" fill="#000"/>
</svg>
</body></html>
